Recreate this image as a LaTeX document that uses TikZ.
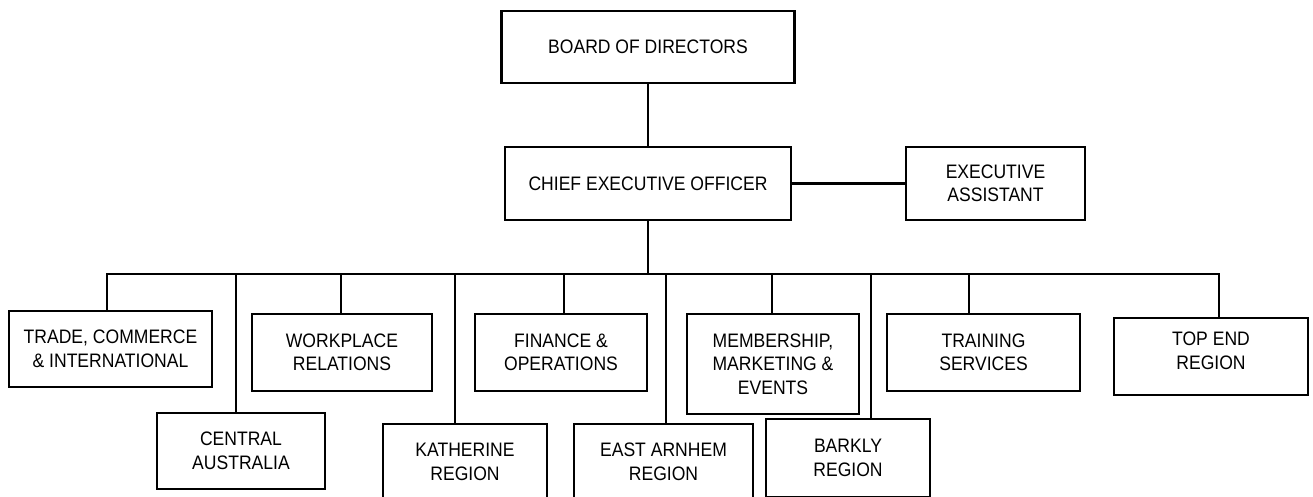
\documentclass[tikz,border=0pt]{standalone}
\usepackage{fontspec}
\setmainfont[FakeStretch=0.9]{Liberation Sans}
\begin{document}
\begin{tikzpicture}[x=1pt,y=-1pt,
  orgbox/.style={draw=black,line width=2.7pt,rectangle,inner sep=0pt,align=center,
    font=\fontsize{19.5}{23.5}\selectfont,text=black},
  link/.style={draw=black,line width=2.5pt}]
\useasboundingbox (0,0) rectangle (1313,496);
\begin{scope}
\clip (0,0) rectangle (1313,496);
\node[orgbox,minimum width=293pt,minimum height=72pt] (board) at (648,47) {BOARD OF DIRECTORS};
\node[orgbox,minimum width=286pt,minimum height=73pt] (ceo) at (648,183.5) {CHIEF EXECUTIVE OFFICER};
\node[orgbox,minimum width=179pt,minimum height=73pt] (ea) at (995.5,183.5) {EXECUTIVE\\ASSISTANT};

\node[orgbox,minimum width=203pt,minimum height=76pt] (trade) at (110.5,349) {TRADE, COMMERCE\\\& INTERNATIONAL};
\node[orgbox,minimum width=168pt,minimum height=76pt] (central) at (241,451) {CENTRAL\\AUSTRALIA};
\node[orgbox,minimum width=180pt,minimum height=77pt] (workplace) at (342,352.5) {WORKPLACE\\RELATIONS};
\node[orgbox,minimum width=164pt,minimum height=76pt] (katherine) at (465,462) {KATHERINE\\REGION};
\node[orgbox,minimum width=172pt,minimum height=77pt] (finance) at (561,352.5) {FINANCE \&\\OPERATIONS};
\node[orgbox,minimum width=179pt,minimum height=76pt] (eastarnhem) at (663.5,462) {EAST ARNHEM\\REGION};
\node[orgbox,minimum width=172pt,minimum height=100pt] (membership) at (773,364) {MEMBERSHIP,\\MARKETING \&\\EVENTS};
\node[orgbox,minimum width=164pt,minimum height=78pt] (barkly) at (848,458) {BARKLY\\REGION};
\node[orgbox,minimum width=193pt,minimum height=77pt] (training) at (983.5,352.5) {TRAINING\\SERVICES};
\node[orgbox,minimum width=194pt,minimum height=77pt,text depth=12pt] (topend) at (1211,356.5) {TOP END\\REGION};

\coordinate (busL) at (107,274);
\coordinate (busR) at (1219,274);
\coordinate (bTrade) at (107,274);
\coordinate (bCentral) at (236,274);
\coordinate (bWork) at (341,274);
\coordinate (bKath) at (455,274);
\coordinate (bFin) at (564,274);
\coordinate (bCeo) at (648,274);
\coordinate (bEast) at (666,274);
\coordinate (bMem) at (772,274);
\coordinate (bBark) at (871,274);
\coordinate (bTrain) at (969,274);
\coordinate (bTop) at (1219,274);

\draw[link] (board.south) -- (ceo.north);
\draw[link] (ceo.east) -- (ea.west);
\draw[link] (ceo.south) -- (bCeo);
\draw[link,line cap=rect] (busL) -- (busR);
\draw[link] (bTrade) -- (bTrade |- trade.north);
\draw[link] (bCentral) -- (bCentral |- central.north);
\draw[link] (bWork) -- (bWork |- workplace.north);
\draw[link] (bKath) -- (bKath |- katherine.north);
\draw[link] (bFin) -- (bFin |- finance.north);
\draw[link] (bEast) -- (bEast |- eastarnhem.north);
\draw[link] (bMem) -- (bMem |- membership.north);
\draw[link] (bBark) -- (bBark |- barkly.north);
\draw[link] (bTrain) -- (bTrain |- training.north);
\draw[link] (bTop) -- (bTop |- topend.north);
\end{scope}
\end{tikzpicture}
\end{document}
